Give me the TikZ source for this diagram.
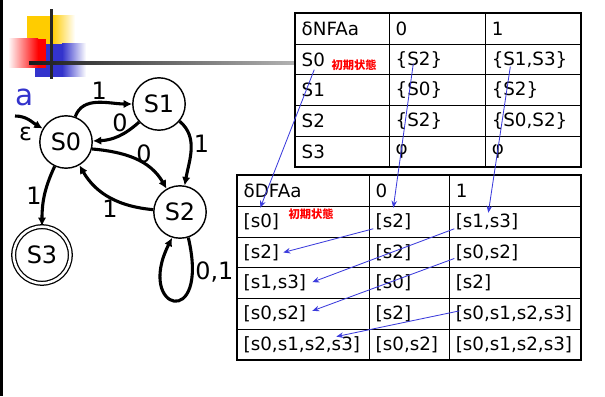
\documentclass[tikz,border=0pt]{standalone}
\usepackage{fontspec}
\setmainfont{DejaVu Sans}
\newfontfamily\cjk{Noto Sans CJK JP}
\usetikzlibrary{arrows.meta,positioning,matrix}

\definecolor{logoyellow}{RGB}{255,204,0}
\definecolor{logored}{RGB}{255,0,0}
\definecolor{logoblue}{RGB}{51,51,204}
\definecolor{linkblue}{RGB}{60,60,220}

\tikzset{colw/.style={execute at begin node={\hbox to #1\bgroup},execute at end node={\hfil\egroup}}}

\begin{document}
\begin{tikzpicture}[x=0.025cm,y=0.025cm,>=Latex]
  \tikzstyle{state}=[draw,circle,line width=1pt,minimum size=1.31cm,inner sep=0pt,font=\fontsize{17pt}{17pt}\selectfont]
  \tikzstyle{accept}=[state,line width=0.9pt,double,double distance=1.8pt,minimum size=1.415cm]
  \tikzstyle{edge}=[-{Latex[length=6pt,width=6pt]},line width=2.2pt]
  \tikzstyle{lab}=[font=\fontsize{17pt}{17pt}\selectfont,inner sep=1pt]
  \tikzstyle{cell}=[draw,line width=0.6pt,anchor=center,inner xsep=0.15cm,inner ysep=0pt,font=\fontsize{13pt}{15pt}\selectfont]
  \tikzstyle{table}=[matrix of nodes,anchor=north west,inner sep=0pt,column sep=-0.6pt,row sep=-0.6pt]
  \tikzstyle{initmark}=[anchor=west,inner sep=0pt,text=red,font=\cjk\bfseries\fontsize{8pt}{8pt}\selectfont]
  \tikzstyle{link}=[-{Stealth[length=5pt,width=4pt]},linkblue,line width=0.6pt]
  \useasboundingbox (0,0) rectangle (605,396);
  \fill (0,0) rectangle (2.5,396);

  % logo
  \fill[logoyellow] (27,351) rectangle (52,380);
  \shade[left color=logoyellow,right color=white] (52,351) rectangle (75,380);
  \fill[logoblue] (35,319) rectangle (62,352);
  \shade[left color=logoblue,right color=white] (62,319) rectangle (86,352);
  \shade[left color=white,right color=logored] (8,328) rectangle (38,357);
  \fill[logored] (38,328) rectangle (46,357);
  \fill[black!85] (49.5,317) rectangle (52.5,387);
  \shade[left color=black!90,right color=black!30] (29,331.5) rectangle (295,334.5);

  % automaton
  \node[font=\fontsize{21pt}{21pt}\selectfont,text=logoblue] (name) at (25,299) {a};
  \node[state] (s0) at (66,254) {S0};
  \node[state] (s1) at (159,292) {S1};
  \node[state] (s2) at (180,184) {S2};
  \node[accept] (s3) at (42,141) {S3};
  \coordinate (init) at (15,280);
  \draw[edge] (init) to[out=0,in=150] node[lab,below,pos=.35,inner sep=5pt] {ε} (s0);
  \draw[edge] (s0) to[out=70,in=180] node[lab,above,pos=.52] {1} (s1);
  \draw[edge] (s1) to[bend left=20] node[lab,above,pos=.45] {0} (s0);
  \draw[edge] (s1) to[out=-40,in=80] node[lab,right,pos=.4] {1} (s2);
  \draw[edge] (s0.-15) to[out=-5,in=120] node[lab,above,pos=.62,inner sep=0pt] {0} (s2);
  \draw[edge] (s2) to[out=175,in=-60] node[lab,below,pos=.5] {1} (s0);
  \draw[edge] (s0) to[out=-115,in=90] node[lab,left,pos=.5] {1} (s3);
  \draw[edge] (s2.-72) .. controls +(22,-94) and +(-37,-73) .. (s2.-107) node[lab,right,pos=.15] {0,1};

  % NFA table
  \matrix (nfa) [table,nodes={cell,minimum height=0.765cm},
    column 1/.style={nodes={colw=2.05cm}},
    column 2/.style={nodes={colw=2.1cm}},
    column 3/.style={nodes={colw=2.075cm}}] at (295,383) {
    δNFAa & 0 & 1 \\
    S0 & {\{S2\}} & {\{S1,S3\}} \\
    S1 & {\{S0\}} & {\{S2\}} \\
    S2 & {\{S2\}} & {\{S0,S2\}} \\
    S3 & φ & φ \\
  };
  \draw[line width=1.5pt] (nfa-1-1.north west) rectangle (nfa-5-3.south east);
  \node[initmark] (nfainit) at ([shift={(36,-6)}]nfa-2-1.west) {初期状態};

  % DFA table
  \matrix (dfa) [table,nodes={cell,minimum height=0.7675cm},
    column 1/.style={nodes={colw=3.0cm}},
    column 2/.style={nodes={colw=1.7cm}},
    column 3/.style={nodes={colw=2.975cm}}] at (237,221) {
    δDFAa & 0 & 1 \\
    {[s0]} & {[s2]} & {[s1,s3]} \\
    {[s2]} & {[s2]} & {[s0,s2]} \\
    {[s1,s3]} & {[s0]} & {[s2]} \\
    {[s0,s2]} & {[s2]} & {[s0,s1,s2,s3]} \\
    {[s0,s1,s2,s3]} & {[s0,s2]} & {[s0,s1,s2,s3]} \\
  };
  \draw[line width=1.5pt] (dfa-1-1.north west) rectangle (dfa-6-3.south east);
  \node[initmark] (dfainit) at ([shift={(51,8)}]dfa-2-1.west) {初期状態};

  \draw[link] ([shift={(19,-10)}]nfa-2-1.west) -- ([shift={(23,14)}]dfa-2-1.west);
  \draw[link] ([shift={(24,-4)}]nfa-2-2.west) -- ([shift={(24,14)}]dfa-2-2.west);
  \draw[link] ([shift={(25,-7)}]nfa-2-3.west) -- ([shift={(39,9)}]dfa-2-3.west);
  \draw[link] ([shift={(4,-7)}]dfa-2-2.west) -- ([shift={(46,0)}]dfa-3-1.west);
  \draw[link] ([shift={(5,-7)}]dfa-2-3.west) -- ([shift={(75,1)}]dfa-4-1.west);
  \draw[link] ([shift={(5,-6)}]dfa-3-3.west) -- ([shift={(75,3)}]dfa-5-1.west);
  \draw[link] ([shift={(10,3)}]dfa-5-3.west) -- ([shift={(99,8)}]dfa-6-1.west);
\end{tikzpicture}
\end{document}
